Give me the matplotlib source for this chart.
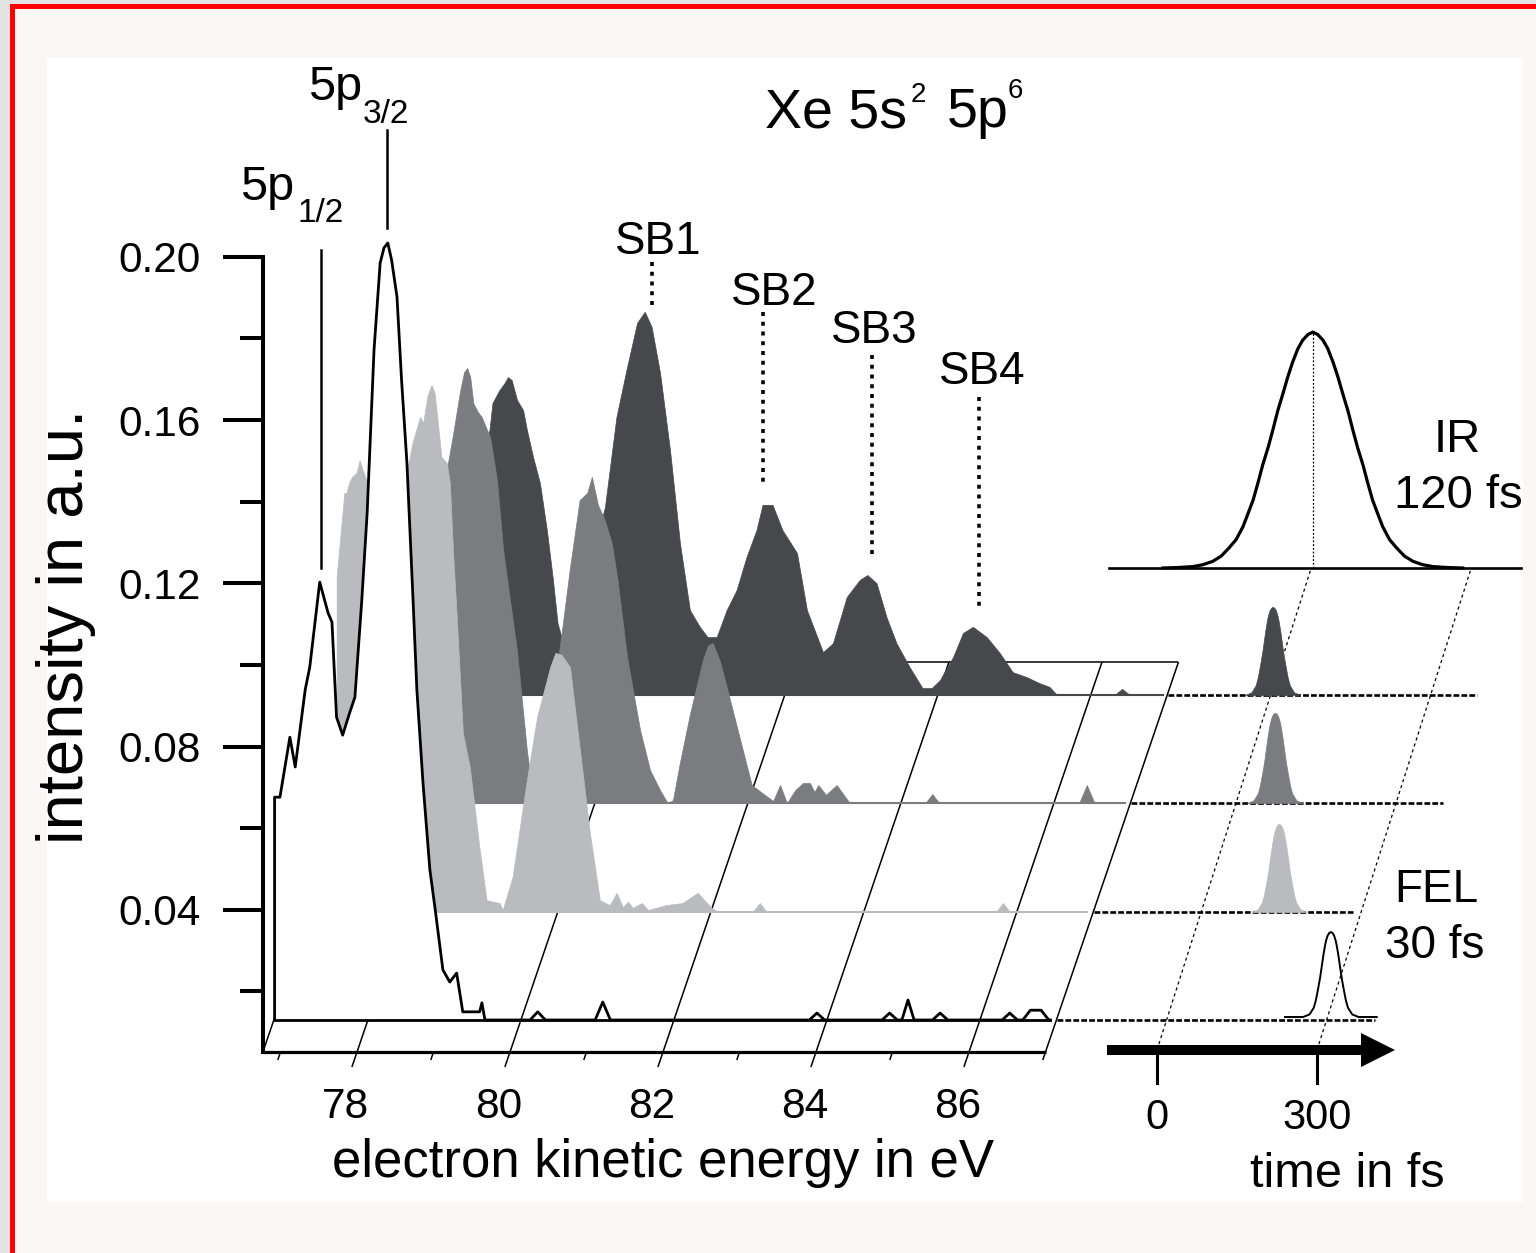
import numpy as np
import matplotlib
matplotlib.use("Agg")
import matplotlib.pyplot as plt
from matplotlib.patches import Rectangle
from matplotlib.ticker import FormatStrFormatter

plt.rcParams['font.family'] = ['Liberation Sans', 'DejaVu Sans']

# ---------------- data ----------------
# front trace (FEL only, no overlap): energy in eV, intensity above its baseline
front_E = [76.78, 76.78, 76.85, 76.98, 77.05, 77.18, 77.24, 77.37, 77.48, 77.53,
           77.59, 77.67, 77.76, 77.83, 77.92, 77.99, 78.08, 78.16, 78.21, 78.26,
           78.31, 78.38, 78.44, 78.51, 78.59, 78.64, 78.72, 78.81, 78.88, 78.98,
           79.07, 79.16, 79.24, 79.46, 79.49, 79.53,
           80.12, 80.22, 80.32, 80.97, 81.07, 81.17, 83.77, 83.87, 83.97, 84.72,
           84.82, 84.92, 84.98, 85.06, 85.14, 85.38, 85.48, 85.58, 86.29, 86.39,
           86.49, 86.56, 86.66, 86.80, 86.90, 86.92]
front_I = [0, 0.0546, 0.0546, 0.0693, 0.0620, 0.0809, 0.0865, 0.1073, 0.0997, 0.0975,
           0.0742, 0.0698, 0.0752, 0.0791, 0.1029, 0.1242, 0.1642, 0.1855, 0.1892, 0.1904,
           0.1862, 0.1772, 0.1568, 0.1365, 0.1029, 0.0809, 0.0581, 0.0368, 0.0270, 0.0123,
           0.0093, 0.0115, 0.0020, 0.0020, 0.0042, 0,
           0, 0.0020, 0, 0, 0.0044, 0, 0, 0.0017, 0, 0,
           0.0017, 0, 0, 0.0049, 0, 0, 0.0017, 0, 0, 0.0017,
           0, 0, 0.0024, 0.0024, 0, 0]

light_E = [77.11, 77.11, 77.21, 77.24, 77.27, 77.31, 77.37, 77.41, 77.45, 77.50,
           77.62, 77.75, 77.90,
           78.00, 78.10, 78.20, 78.24, 78.30, 78.35, 78.39, 78.48, 78.55, 78.59,
           78.63, 78.68, 78.76, 78.85, 78.98, 79.07, 79.24, 79.28, 79.41, 79.59,
           79.73, 79.90, 79.97, 80.05, 80.16, 80.29, 80.42, 80.55, 80.68, 80.77,
           80.85, 80.92, 80.98, 81.10, 81.18, 81.42, 81.63, 81.83, 82.01, 82.10,
           82.55, 82.64, 82.73, 85.73, 85.82, 85.91, 86.92]
light_I = [0, 0.0821, 0.1027, 0.1027, 0.1051, 0.1066, 0.1076, 0.1107, 0.1083, 0.1058,
           0.090, 0.085, 0.095,
           0.1051, 0.1149, 0.1213, 0.1198, 0.1267, 0.1291, 0.1272, 0.1115, 0.1100, 0.1051,
           0.0887, 0.0723, 0.0439, 0.0355, 0.0152, 0.0029, 0.0022, 0.0005, 0.0086, 0.0316,
           0.0478, 0.0600, 0.0635, 0.0630, 0.0600, 0.0397, 0.0194, 0.0029, 0.0017, 0.0047,
           0.0012, 0.0025, 0.0010, 0.0022, 0.0005, 0.0017, 0.0022, 0.0047, 0.0010, 0,
           0, 0.0022, 0, 0, 0.0022, 0, 0]

medium_E = [77.11, 77.11, 77.40, 77.70, 78.00, 78.14, 78.24, 78.29, 78.33, 78.37,
            78.41, 78.47, 78.52, 78.59, 78.63, 78.72, 78.80, 78.89, 78.98, 79.11,
            79.18, 79.22, 79.28, 79.39, 79.48, 79.57, 79.67, 79.80, 79.90, 79.96,
            80.04, 80.13, 80.22, 80.29, 80.42, 80.59, 80.72, 80.85, 80.95, 81.02,
            81.11, 81.24, 81.41, 81.48, 81.54, 81.63, 81.70, 81.90, 82.05, 82.22,
            82.33, 82.42, 82.51, 82.62, 82.72, 82.81, 82.87, 82.92, 83.02, 83.16,
            83.33, 84.32, 84.41, 84.50, 86.33, 86.43, 86.53, 86.93]
medium_I = [0, 0.055, 0.070, 0.055, 0.075, 0.0897, 0.1012, 0.1056, 0.1066, 0.1044,
            0.0980, 0.0958, 0.0946, 0.0914, 0.0897, 0.0791, 0.0620, 0.0497, 0.0375, 0.0130,
            0.0032, 0.0007, 0.0007, 0.0154, 0.0301, 0.0424, 0.0571, 0.0742, 0.0760, 0.0799,
            0.0730, 0.0693, 0.0637, 0.0554, 0.0358, 0.0179, 0.0081, 0.0032, 0, 0.0007,
            0.0098, 0.0216, 0.0350, 0.0387, 0.0392, 0.0350, 0.0301, 0.0154, 0.0044, 0.0020,
            0.0005, 0.0044, 0, 0.0032, 0.0049, 0.0049, 0.0027, 0.0044, 0.0020, 0.0044,
            0, 0, 0.0022, 0, 0, 0.0044, 0, 0]

dark_E = [77.11, 77.11, 77.40, 77.70, 78.00, 78.14, 78.18, 78.27, 78.34, 78.38,
          78.43, 78.50, 78.58, 78.63, 78.71, 78.80, 78.89, 78.97, 79.03, 79.11,
          79.22, 79.39, 79.54, 79.65, 79.80, 79.93, 80.07, 80.17, 80.26, 80.37,
          80.50, 80.63, 80.76, 80.89, 80.99, 81.11, 81.24, 81.37, 81.50, 81.63,
          81.71, 81.84, 81.97, 82.16, 82.29, 82.50, 82.63, 82.81, 82.98, 83.08,
          83.20, 83.33, 83.46, 83.63, 83.80, 83.92, 84.03, 84.20, 84.33, 84.46,
          84.64, 84.81, 84.98, 85.16, 85.33, 85.46, 85.56, 86.31, 86.41, 86.51,
          86.94]
dark_I = [0, 0.035, 0.045, 0.040, 0.055, 0.0649, 0.0716, 0.0747, 0.0765, 0.0779,
          0.0772, 0.0723, 0.0698, 0.0649, 0.0583, 0.0519, 0.0404, 0.0282, 0.0176, 0.0123,
          0.0135, 0.0257, 0.0380, 0.0461, 0.0681, 0.0796, 0.0912, 0.0939, 0.0902, 0.0789,
          0.0600, 0.0372, 0.0208, 0.0167, 0.0142, 0.0142, 0.0208, 0.0257, 0.0338, 0.0404,
          0.0466, 0.0466, 0.0404, 0.0348, 0.0208, 0.0105, 0.0127, 0.0240, 0.0282, 0.0294,
          0.0274, 0.0191, 0.0127, 0.0069, 0.0017, 0.0017, 0.0037, 0.0093, 0.0152, 0.0167,
          0.0142, 0.0103, 0.0056, 0.0044, 0.0029, 0.0020, 0, 0, 0.0015, 0,
          0]

line_E = [77.39, 78.25]                 # front-trace energies of the 5p lines
sb_labels = ['SB1', 'SB2', 'SB3', 'SB4']
sb_E = [80.26, 81.71, 83.14, 84.54]     # sideband energies (rear trace)

fel_delay_fs = [308, 146, 73, 4]        # FEL delay for front, light, medium, dark trace
fel_height = [0.0208, 0.0216, 0.0221, 0.0216]
fel_dt_fs = [-52, -40, -32, -28, -24, -20, -17, -14, -11, -9, -6, -3, 0,
             3, 6, 9, 11, 14, 17, 20, 24, 28, 32, 40, 52]
fel_prof = [0, 0.03, 0.11, 0.2, 0.33, 0.47, 0.6, 0.73, 0.84, 0.9, 0.96, 0.99, 1,
            0.99, 0.96, 0.9, 0.84, 0.73, 0.6, 0.47, 0.33, 0.2, 0.11, 0.03, 0]
ir_delay_fs = 3
ir_height = 0.0578
ir_dt_fs = [-281, -253, -225, -206, -188, -172, -158, -144, -131, -122, -112, -103,
            -94, -84, -75, -66, -56, -47, -38, -28, -19, -9, 0,
            9, 19, 28, 38, 47, 56, 66, 75, 84, 94, 103, 112, 122, 131, 144, 158,
            172, 188, 206, 225, 253, 281]
ir_prof = [0, 0.002, 0.006, 0.014, 0.028, 0.05, 0.083, 0.12, 0.175, 0.228, 0.288, 0.36,
           0.437, 0.51, 0.585, 0.665, 0.74, 0.81, 0.872, 0.93, 0.966, 0.99, 1,
           0.99, 0.966, 0.93, 0.872, 0.81, 0.74, 0.665, 0.585, 0.51, 0.437, 0.36,
           0.288, 0.228, 0.175, 0.12, 0.083, 0.05, 0.028, 0.014, 0.006, 0.002, 0]

y_major = [0.04, 0.08, 0.12, 0.16, 0.20]
y_minor = [0.02, 0.06, 0.10, 0.14, 0.18]
x_major = [78, 80, 82, 84, 86]
x_minor = [77, 79, 81, 83, 85, 87]
t_ticks = [0, 300]

# ---------------- layout ----------------
W, H = 1536, 1253
E_PX0, E_PXW = 357.0, 76.5
I_PX0, I_PXW = 1073.0, 4081.0
T_PX0, T_PXW = 1157.0, 0.53333


def px2E(x):
    return 78 + (x - E_PX0) / E_PXW


def py2I(y):
    return (I_PX0 - y) / I_PXW


def px2T(x):
    return (x - T_PX0) / T_PXW


E_lim = (px2E(0), px2E(W))
I_lim = (py2I(H), py2I(0))
T_lim = (px2T(0), px2T(W))
SHEAR_E = 0.341 * I_PXW / E_PXW
SHEAR_T = 0.32 * I_PXW / T_PXW
B0 = py2I(1052)
BTOP = py2I(662)
BT = py2I(1050)
B_IR = py2I(568)
layer_base = [py2I(1020), py2I(912), py2I(803), py2I(695)]
layer_color = ['white', '#b9bbbe', '#7b7c80', '#47484c']
FRAME_E = (76.77, 87.0)
dot_end_fs = [390, 285, 388, 387]


def eshift(b):
    return SHEAR_E * (b - B0)


def tshift(b):
    return SHEAR_T * (b - BT)


def e2t(E):
    return T_lim[0] + (E - E_lim[0]) / (E_lim[1] - E_lim[0]) * (T_lim[1] - T_lim[0])


fig = plt.figure(figsize=(W / 100, H / 100), dpi=100)
fig.patch.set_facecolor('#fbf7f7')


def frect(x0, y0, x1, y1, color):
    fig.add_artist(Rectangle((x0 / W, 1 - y1 / H), (x1 - x0) / W, (y1 - y0) / H,
                             transform=fig.transFigure, facecolor=color,
                             edgecolor='none', zorder=-5))


frect(0, 0, W, 4, '#e3e3e3')
frect(0, 0, 10, H, '#e3e3e3')
frect(10, 4, W, 9, '#ff0000')
frect(10, 4, 15, H, '#ff0000')
frect(47, 58, 1523, 1202, 'white')


def ftext(x, y, s, size, ha='left', va='baseline', **kw):
    fig.text(x / W, 1 - y / H, s, fontsize=size, ha=ha, va=va, **kw)


ax = fig.add_axes([0, 0, 1, 1])
ax.set_xlim(E_lim)
ax.set_ylim(I_lim)
ax.patch.set_visible(False)
for s in ['top', 'right', 'bottom']:
    ax.spines[s].set_visible(False)
ax.spines['left'].set_position(('data', FRAME_E[0]))
ax.spines['left'].set_bounds(B0, 0.20)
ax.spines['left'].set_linewidth(2.9)
ax.set_xticks([])
ax.set_yticks(y_major)
ax.set_yticks(y_minor, minor=True)
ax.yaxis.set_major_formatter(FormatStrFormatter('%.2f'))
ax.tick_params(axis='y', which='major', direction='out', length=29, width=2.9,
               labelsize=30.5, pad=16)
ax.tick_params(axis='y', which='minor', direction='out', length=16.5, width=2.9)

# oblique grid / frame
gkw = dict(color='k', lw=1.1, zorder=1, solid_capstyle='butt')
for E in x_major:
    yb = py2I(1067)
    ax.plot([E + eshift(yb), E + eshift(BTOP)], [yb, BTOP], **gkw)
    ax.annotate(f'{E}', xy=(E, B0), xytext=(-8, -47.5), textcoords='offset points',
                ha='center', va='baseline', fontsize=30.5)
for E in x_minor:
    yb = py2I(1060)
    ax.plot([E + eshift(yb), E], [yb, B0], **gkw)
ax.plot([FRAME_E[0], FRAME_E[0] + eshift(BTOP)], [B0, BTOP], **gkw)
ax.plot([FRAME_E[1], FRAME_E[1] + eshift(BTOP)], [B0, BTOP], **gkw)
ax.plot([FRAME_E[0] + eshift(BTOP), FRAME_E[1] + eshift(BTOP)], [BTOP, BTOP], **gkw)
ax.plot([FRAME_E[0], FRAME_E[1]], [B0, B0], color='k', lw=2.3, zorder=8,
        solid_capstyle='butt')

# spectra, back to front
specs = [(front_E, front_I), (light_E, light_I), (medium_E, medium_I), (dark_E, dark_I)]
for k in [3, 2, 1, 0]:
    E = np.asarray(specs[k][0], float)
    I = np.asarray(specs[k][1], float)
    b = layer_base[k]
    x = E + eshift(b)
    y = I + b
    z = 2 + (3 - k)
    c = layer_color[k]
    if k == 0:
        ax.fill_between(x, b, y, facecolor='white', edgecolor='none', zorder=z)
        ax.plot(x, y, color='k', lw=2.0, zorder=z + 0.5)
        ax.plot([x[0], x[-1]], [b, b], color='k', lw=2.0, zorder=z + 0.5)
    else:
        ax.fill_between(x, b, y, facecolor=c, edgecolor=c, lw=0.5, zorder=z)
        ax.plot([x[0], x[-1]], [b, b], color=c, lw=1.5, zorder=z)

# 5p lines
p_px = [(250, 568), (130, 228)]
for E, (yt, yb) in zip(line_E, p_px):
    x = E + eshift(layer_base[0])
    ax.plot([x, x], [py2I(yt), py2I(yb)], color='k', lw=1.8, zorder=9)
ftext(240, 200, '5p', 35)
ftext(298, 222, '1/2', 24)
ftext(308, 100, '5p', 35)
ftext(363, 123, '3/2', 24)

# sideband markers
sb_px = [(262, 305), (312, 487), (355, 557), (397, 607)]
sb_txt = [(658, 254), (774, 305), (874, 343), (982, 384)]
for E, (yt, yb), (tx, ty), lab in zip(sb_E, sb_px, sb_txt, sb_labels):
    x = E + eshift(layer_base[3])
    ax.plot([x, x], [py2I(yt), py2I(yb)], color='k', lw=2.6,
            ls=(0, (1.1, 1.6)), dash_capstyle='butt', zorder=9)
    ftext(tx, ty, lab, 33, ha='center')

# title
ftext(765, 127, 'Xe 5s', 40)
ftext(911, 102, '2', 20)
ftext(947, 127, '5p', 40)
ftext(1008, 98, '6', 20)

# axis labels
ftext(663, 1177, 'electron kinetic energy in eV', 38, ha='center')
ftext(66, 626, 'intensity in a.u.', 47, ha='center', va='center', rotation=90)

# ---------------- time panel ----------------
ax_t = fig.add_axes([0, 0, 1, 1])
ax_t.set_xlim(T_lim)
ax_t.set_ylim(I_lim)
ax_t.patch.set_visible(False)
ax_t.axis('off')

ax_t.arrow(px2T(1107), BT, px2T(1395) - px2T(1107), 0, width=10 / I_PXW,
           head_width=34 / I_PXW, head_length=34 / T_PXW, length_includes_head=True,
           fc='k', ec='none', zorder=5)
for t in t_ticks:
    ax_t.plot([t, t], [BT, py2I(1083)], color='k', lw=2.2, zorder=5)
    ax_t.text(t, py2I(1129), f'{t}', ha='center', va='baseline', fontsize=30)
    ax_t.plot([t, t + tshift(B_IR)], [BT, B_IR], color='k', lw=0.9,
              ls=(0, (2.5, 2.5)), zorder=1)
ftext(1347, 1187, 'time in fs', 35, ha='center')

for k in range(4):
    b = layer_base[k]
    ts = e2t(FRAME_E[1] + eshift(b)) + 2
    te = dot_end_fs[k] + tshift(b)
    ax_t.plot([ts, te], [b, b], color='k', lw=1.9, ls=(0, (2.2, 0.8)), zorder=2)
    tc = fel_delay_fs[k] + tshift(b)
    xs = tc + np.asarray(fel_dt_fs, float)
    ys = b + fel_height[k] * np.asarray(fel_prof, float)
    if k == 0:
        lift = 3 / I_PXW
        ax_t.plot(np.r_[tc - 86, xs, tc + 86], np.r_[b, ys, b] + lift,
                  color='k', lw=1.4, zorder=4)
    else:
        ax_t.fill_between(xs, b, ys, facecolor=layer_color[k],
                          edgecolor=layer_color[k], lw=0.5, zorder=4)

tc = ir_delay_fs + tshift(B_IR)
ax_t.plot([tc - 383, tc + 391], [B_IR, B_IR], color='k', lw=1.9, zorder=3)
ax_t.plot(tc + np.asarray(ir_dt_fs, float), B_IR + ir_height * np.asarray(ir_prof, float),
          color='k', lw=2.3, zorder=4)
ax_t.plot([tc, tc], [B_IR, B_IR + ir_height], color='k', lw=0.9,
          ls=(0, (1.5, 1.5)), zorder=3)

ftext(1457, 452, 'IR', 34, ha='center')
ftext(1458, 508, '120 fs', 34, ha='center')
ftext(1436, 902, 'FEL', 33, ha='center')
ftext(1435, 958, '30 fs', 33, ha='center')

fig.savefig('out.png', dpi=100, facecolor=fig.get_facecolor())
